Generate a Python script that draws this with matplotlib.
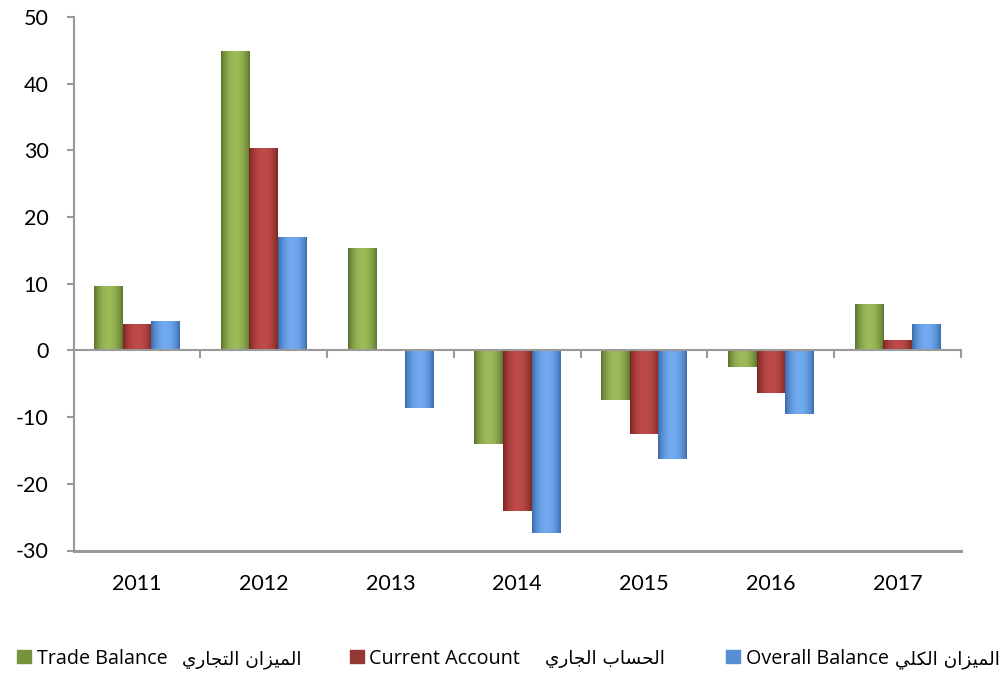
import numpy as np
import matplotlib
matplotlib.use("Agg")
import matplotlib.pyplot as plt
from matplotlib.patches import Rectangle

# ---------------- data ----------------
years = ["2011", "2012", "2013", "2014", "2015", "2016", "2017"]
trade_balance = [9.6, 44.9, 15.4, -14.0, -7.5, -2.5, 6.9]
current_account = [4.0, 30.3, 0.0, -24.1, -12.6, -6.4, 1.5]
overall_balance = [4.4, 17.0, -8.6, -27.4, -16.3, -9.6, 3.9]

series_en = ["Trade Balance", "Current Account", "Overall Balance"]
series_ar = ["الميزان التجاري", "الحساب الجاري", "الميزان الكلي"]
yticks = [-30, -20, -10, 0, 10, 20, 30, 40, 50]

# colours: (dark edge, light centre, legend swatch)
palette = [
    ("#4e6526", "#9dbb58", "#77933c"),
    ("#6e1f1d", "#bf4b48", "#953735"),
    ("#2f5f9e", "#72abf2", "#558ed5"),
]

# ---------------- simple Arabic shaping ----------------
FORMS = {  # iso, fin, ini, med
    "ا": ("\uFE8D", "\uFE8E", None, None),
    "ر": ("\uFEAD", "\uFEAE", None, None),
    "ز": ("\uFEAF", "\uFEB0", None, None),
    "ب": ("\uFE8F", "\uFE90", "\uFE91", "\uFE92"),
    "ت": ("\uFE95", "\uFE96", "\uFE97", "\uFE98"),
    "ج": ("\uFE9D", "\uFE9E", "\uFE9F", "\uFEA0"),
    "ح": ("\uFEA1", "\uFEA2", "\uFEA3", "\uFEA4"),
    "س": ("\uFEB1", "\uFEB2", "\uFEB3", "\uFEB4"),
    "ك": ("\uFED9", "\uFEDA", "\uFEDB", "\uFEDC"),
    "ل": ("\uFEDD", "\uFEDE", "\uFEDF", "\uFEE0"),
    "م": ("\uFEE1", "\uFEE2", "\uFEE3", "\uFEE4"),
    "ن": ("\uFEE5", "\uFEE6", "\uFEE7", "\uFEE8"),
    "ي": ("\uFEF1", "\uFEF2", "\uFEF3", "\uFEF4"),
}


def dual(c):
    return c in FORMS and FORMS[c][2] is not None


def shape_word(w):
    out = []
    for i, c in enumerate(w):
        if c not in FORMS:
            out.append(c)
            continue
        prev_j = i > 0 and dual(w[i - 1])
        next_j = dual(c) and i < len(w) - 1 and w[i + 1] in FORMS
        iso, fin, ini, med = FORMS[c]
        if prev_j and next_j:
            out.append(med)
        elif prev_j:
            out.append(fin)
        elif next_j:
            out.append(ini)
        else:
            out.append(iso)
    return "".join(out)


def shape_arabic(s):
    words = [shape_word(w) for w in s.split(" ")]
    return " ".join(w[::-1] for w in words[::-1])


# ---------------- figure ----------------
FONT = ["Lato", "DejaVu Sans"]
plt.rcParams["font.family"] = FONT

W, H = 1005, 673
fig = plt.figure(figsize=(W / 100, H / 100), dpi=100)
ax = fig.add_axes([73.5 / W, 1 - 550.5 / H, (961 - 73.5) / W, (550.5 - 17) / H])

x = np.arange(len(years))
bw = 0.225
all_series = [trade_balance, current_account, overall_balance]

t = np.linspace(0, 1, 64)
prof = np.clip(np.sin(np.pi * np.clip(t * 0.95 + 0.02, 0, 1)) ** 0.7, 0, 1)

for k, vals in enumerate(all_series):
    dark, light, _ = palette[k]
    bars = ax.bar(x + (k - 1) * bw, vals, bw, color=light, linewidth=0, zorder=2)
    d = np.array(matplotlib.colors.to_rgb(dark))
    l = np.array(matplotlib.colors.to_rgb(light))
    grad = d[None, :] * (1 - prof[:, None]) + l[None, :] * prof[:, None]
    grad = grad[None, :, :]
    for b in bars:
        bx, by = b.get_x(), b.get_y()
        bwid, bh = b.get_width(), b.get_height()
        if bh == 0:
            continue
        im = ax.imshow(grad, extent=(bx, bx + bwid, by, by + bh), aspect="auto",
                       interpolation="bilinear", zorder=2.5)
        im.set_clip_path(b)

ax.set_xlim(-0.5, len(years) - 0.5)
ax.set_ylim(-30, 50)

gray = "#9a9a9a"
for s in ["top", "right"]:
    ax.spines[s].set_visible(False)
ax.spines["left"].set_color(gray)
ax.spines["left"].set_linewidth(1.5)
ax.spines["bottom"].set_position(("data", 0))
ax.spines["bottom"].set_color(gray)
ax.spines["bottom"].set_linewidth(1.5)
ax.spines["bottom"].set_zorder(3)
ax.axhline(-30, color=gray, lw=2.2, zorder=3, clip_on=False)

ax.set_yticks(yticks)
ax.set_yticklabels([str(v) for v in yticks])
ax.tick_params(axis="y", length=5, width=1.5, color=gray, pad=13, labelsize=15.5)

ax.set_xticks(list(x[:-1] + 0.5) + [len(years) - 0.5])
ax.set_xticklabels([])
ax.tick_params(axis="x", length=6, width=1.5, color=gray, direction="out")

sec = ax.secondary_xaxis(location=0)
sec.set_xticks(x)
sec.set_xticklabels(years)
sec.tick_params(length=0, pad=17, labelsize=15.5)
sec.spines["bottom"].set_visible(False)

# ---------------- legend ----------------
sw_pos = [17, 350, 726]
en_start = [37, 369, 746]
ar_end = [302, 665, 1000]
ly = 657
for k in range(3):
    fig.patches.append(Rectangle((sw_pos[k] / W, 1 - 663 / H), 14 / W, 13 / H,
                                 transform=fig.transFigure, color=palette[k][2]))
    fig.text(en_start[k] / W, 1 - ly / H, series_en[k], ha="left", va="center_baseline",
             fontsize=14.2, family=["Open Sans", "DejaVu Sans"])
    fig.text(ar_end[k] / W, 1 - ly / H, shape_arabic(series_ar[k]), ha="right",
             va="center_baseline", fontsize=13.3, family=["DejaVu Sans"])

fig.savefig("out.png", dpi=100)
